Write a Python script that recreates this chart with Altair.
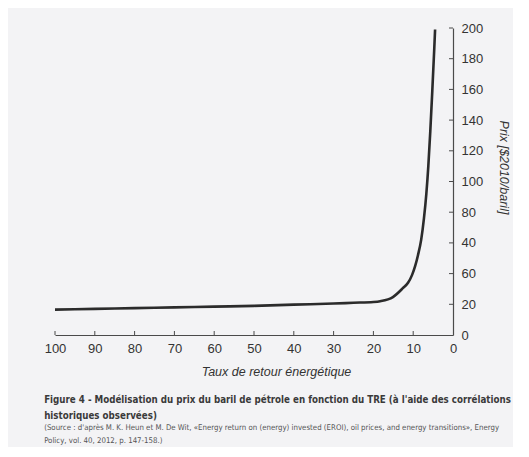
import altair as alt
import pandas as pd

# Curve: Taux de retour énergétique (TRE) vs prix du baril
tre = [100, 90, 80, 70, 60, 50, 40, 30, 25, 20, 18.3, 15.1, 12.6, 11.3, 10.3, 9.5, 8.8, 8.0, 7.3, 6.7, 6.2, 5.7, 5.2, 4.7, 4.5]
prix = [16.5, 17, 17.5, 18, 18.5, 19, 19.8, 20.5, 21, 21.5, 22, 24.7, 30.5, 34, 39, 45, 52, 62, 76, 92, 110, 133, 159, 187, 199]

x_ticks = [100, 90, 80, 70, 60, 50, 40, 30, 20, 10, 0]
y_ticks = [0, 20, 40, 60, 80, 100, 120, 140, 160, 180, 200]
# labels as printed in the figure (40 and 60 appear swapped)
y_labels = ["0", "20", "60", "40", "80", "100", "120", "140", "160", "180", "200"]

x_title = "Taux de retour énergétique"
y_title = "Prix [$2010/baril]"
caption = [
    "Figure 4 - Modélisation du prix du baril de pétrole en fonction du TRE (à l'aide des corrélations",
    "historiques observées)",
]
source = [
    "(Source : d'après M. K. Heun et M. De Wit, «Energy return on (energy) invested (EROI), oil prices, and energy transitions», Energy",
    "Policy, vol. 40, 2012, p. 147-158.)",
]

curve = pd.DataFrame({"tre": tre, "prix": prix})
xt = pd.DataFrame({"t": [v for v in x_ticks if v != 0]})
yt = pd.DataFrame({"v": [v for v in y_ticks if v != 0]})

label_expr = " : ".join(
    f"datum.value == {v} ? '{l}'" for v, l in zip(y_ticks, y_labels)
) + " : datum.label"

xscale = alt.Scale(domain=[100, 0], nice=False, zero=False)
yscale = alt.Scale(domain=[0, 200], nice=False)

AX = "#4a4a4a"
TXT = "#333333"
FONT = "Liberation Sans"
NARROW = "DejaVu Sans Condensed, Liberation Sans Narrow, Liberation Sans"

line = alt.Chart(curve).mark_line(
    interpolate="monotone", color="#2b2b2b", strokeWidth=2.6
).encode(
    x=alt.X(
        "tre:Q",
        scale=xscale,
        axis=alt.Axis(
            orient="bottom", values=x_ticks, ticks=False, grid=False,
            domainColor=AX, domainWidth=1.2,
            labelFont=FONT, labelFontSize=13, labelColor=TXT,
            labelPadding=7, labelFlush=False, labelOverlap=False,
            title=x_title, titleFont=FONT, titleFontSize=12.5,
            titleFontStyle="italic", titleFontWeight="normal", titleColor=TXT,
            titleX=221, titleY=36, titleBaseline="middle",
        ),
    ),
    y=alt.Y(
        "prix:Q",
        scale=yscale,
        axis=alt.Axis(
            orient="right", values=y_ticks, ticks=False, grid=False,
            domainColor=AX, domainWidth=1.2,
            labelExpr=label_expr,
            labelFont=FONT, labelFontSize=13, labelColor=TXT,
            labelPadding=8, labelAlign="left", labelBaseline="middle",
            labelFlush=False, labelOverlap=False,
            title=y_title, titleFont=FONT, titleFontSize=12.5,
            titleFontStyle="italic", titleFontWeight="normal", titleColor=TXT,
            titleAngle=90, titleX=50, titleY=139,
            titleAlign="center", titleBaseline="middle",
        ),
    ),
)

xticks = alt.Chart(xt).mark_rule(color=AX, strokeWidth=1).encode(
    x=alt.X("t:Q", scale=xscale, axis=None),
    y=alt.datum(0, axis=None),
    y2=alt.datum(2.6),
)

yticks = alt.Chart(yt).mark_rule(color=AX, strokeWidth=1).encode(
    y=alt.Y("v:Q", scale=yscale, axis=None),
    x=alt.datum(0, axis=None),
    x2=alt.datum(1.0),
)

chart = alt.layer(line, xticks, yticks).resolve_axis(
    x="independent", y="independent"
).properties(
    width=398,
    height=307,
    background="#f3f3f5",
    padding={"left": 47, "top": 20, "right": 60, "bottom": 112},
    autosize=alt.AutoSizeParams(type="none"),
    title=alt.TitleParams(
        text=caption,
        subtitle=source,
        orient="bottom",
        anchor="start",
        frame="bounds",
        offset=17,
        font=NARROW,
        fontSize=9.7,
        fontWeight="bold",
        color="#3a3a3a",
        lineHeight=16,
        subtitleFont=NARROW,
        subtitleFontSize=7.8,
        subtitleColor="#555555",
        subtitleLineHeight=12.5,
        subtitlePadding=4,
    ),
).configure_view(stroke=None)

chart.save("out.html", embed_options={"renderer": "svg", "actions": False})
